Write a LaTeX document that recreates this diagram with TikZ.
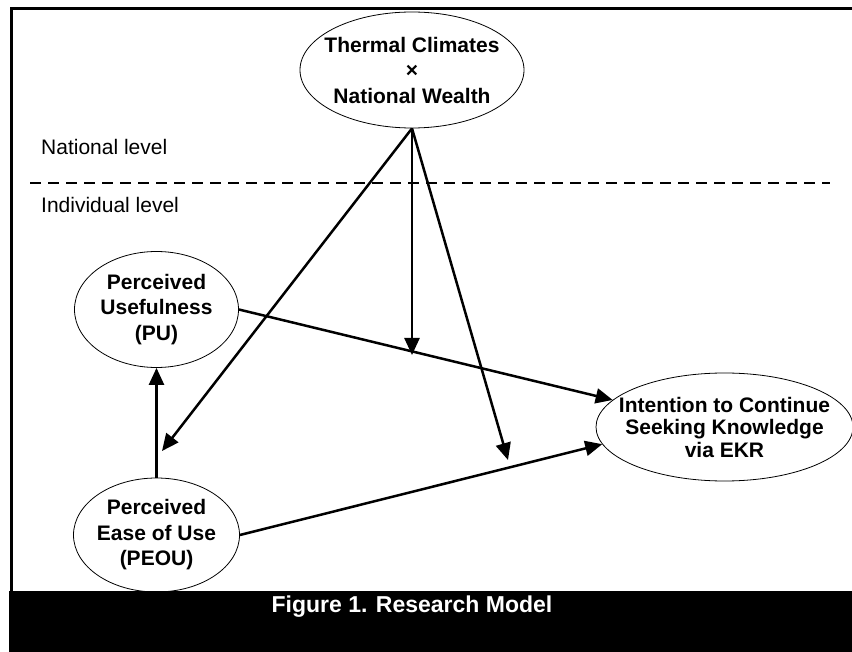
\documentclass[tikz,border=0pt]{standalone}
\usepackage{fontspec}
\setmainfont{Liberation Sans}
\usetikzlibrary{arrows.meta, shapes.geometric}
\tikzset{%
	factor/.style={draw, ellipse, line width=0.8pt, inner xsep=-30pt, inner ysep=-8pt,%
		align=center, font=\fontsize{21}{25.5}\selectfont\bfseries},
	link/.style={-{Triangle[length=17pt, width=15pt]}, line width=2.5pt},
	lvltext/.style={anchor=west, inner sep=0pt, font=\fontsize{21}{25}\selectfont},
	divider/.style={dashed, dash pattern=on 11pt off 7pt, line width=1.2pt},
	caption/.style={text=white, font=\fontsize{23}{27}\selectfont\bfseries}
}
\begin{document}
\begin{tikzpicture}[x=1pt, y=-1pt]
	\useasboundingbox (0,0) rectangle (852,652);

	% frame and caption band
	\draw[line width=3pt] (852,8.5) -| (11.5,591);
	\fill[black] (9,591) rectangle (852,652);
	\node[caption] (cap) at (412,607) {Figure 1. Research Model};

	% levels
	\node[lvltext] (natl) at (41,147) {National level};
	\node[lvltext] (indiv) at (41,205) {Individual level};
	\draw[divider] (30,183) -- (830,183);

	% constructs
	\node[factor, minimum width=224pt, minimum height=116pt] (tcnw) at (412,70)
		{Thermal Climates\\×\\National Wealth};
	\node[factor, minimum width=164pt, minimum height=116pt] (pu) at (156.5,309.5)
		{Perceived\\Usefulness\\(PU)};
	\node[factor, minimum width=166pt, minimum height=114pt] (peou) at (156.5,535)
		{Perceived\\Ease of Use\\(PEOU)};
	\node[factor, minimum width=257pt, minimum height=108pt,%
		font=\fontsize{21}{22.5}\selectfont\bfseries] (int) at (724.5,427)
		{Intention to Continue\\Seeking Knowledge\\via EKR};

	% free ends of the moderating arrows
	\coordinate (m1) at (162,451);
	\coordinate (m2) at (412,355);
	\coordinate (m3) at (508,460);

	\draw[link] (peou.north) -- (pu.south);
	\draw[link] (pu.east) -- (int);
	\draw[link] (peou.east) -- (int.188);
	\draw[link] (tcnw.south) -- (m1);
	\draw[link] (tcnw.south) -- (m2);
	\draw[link] (tcnw.south) -- (m3);
\end{tikzpicture}
\end{document}
